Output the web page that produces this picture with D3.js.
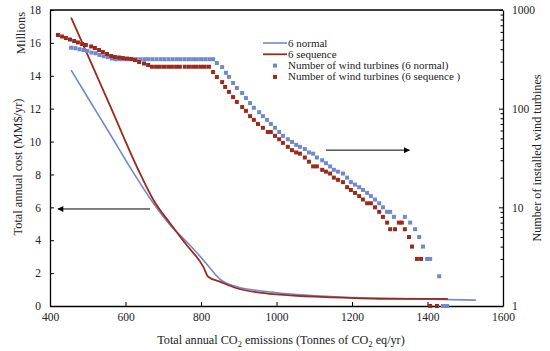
<!DOCTYPE html>
<html>
<head>
<meta charset="utf-8">
<script src="https://cdn.jsdelivr.net/npm/d3@7"></script>
<style>
body { margin: 0; background: #fff; }
svg { font-family: 'Liberation Serif', 'Times New Roman', serif; }
</style>
</head>
<body>
<div id="chart"></div>
<script>
// total annual cost curves (millions $/yr) vs CO2 emissions
const normalLineCO2 = [456, 506, 559, 616, 674, 718, 762, 806, 828, 850, 895, 956, 1036, 1142, 1274, 1407, 1528];
const normalLineCost = [14.34, 12.45, 10.46, 8.29, 6.25, 4.93, 3.91, 2.80, 2.19, 1.64, 1.17, 0.93, 0.73, 0.58, 0.47, 0.41, 0.36];
const seqLineCO2 = [456, 506, 559, 634, 674, 718, 762, 806, 819, 850, 895, 956, 1036, 1142, 1274, 1454];
const seqLineCost = [17.54, 14.93, 12.18, 8.27, 6.45, 5.03, 3.71, 2.39, 1.78, 1.48, 1.08, 0.81, 0.65, 0.53, 0.44, 0.43];

// number of wind turbines
const normalTurbCO2 = [456, 467, 478, 489, 499, 510, 521, 531, 542, 553, 564, 574, 585, 596, 607, 617, 628, 639, 650, 660,
  671, 682, 693, 703, 714, 725, 736, 746, 757, 768, 779, 789, 800, 811, 822, 832,
  842, 856, 866, 874, 885, 895, 909, 919, 930, 940, 954, 964, 975, 985, 996, 1007, 1017, 1030, 1041, 1052,
  1062, 1075, 1086, 1097, 1107, 1121, 1131, 1142, 1152, 1163, 1176, 1187, 1197, 1208, 1219, 1229, 1240, 1250, 1261, 1272,
  1282, 1293, 1301, 1311, 1340, 1354, 1367, 1378, 1388, 1399, 1407, 1431, 1441, 1452];
const normalTurbCount = [415, 410, 400, 393, 385, 370, 364, 350, 340, 333, 322, 317, 317, 317, 317, 317, 317, 317, 317, 317,
  317, 317, 317, 317, 317, 317, 317, 317, 317, 317, 317, 317, 317, 317, 317, 317,
  290, 264, 231, 210, 182, 162, 144, 128, 114, 102, 92, 84, 77, 70, 64, 58, 53, 49, 46, 43,
  41, 39, 36, 35, 32, 30, 28, 26, 24, 23, 22, 20, 18, 17, 16, 15, 14, 13, 12, 11,
  10, 9, 9, 8, 8, 7, 6, 5, 4, 3, 3, 2, 1, 1];
const seqTurbCO2 = [421, 432, 442, 453, 464, 474, 485, 495, 509, 519, 530, 540, 551, 562, 572, 583, 593, 604, 615, 625,
  636, 649, 660, 670, 681, 691, 702, 713, 723, 734, 744, 757, 768, 779, 789, 800, 810, 821,
  832, 842, 856, 864, 874, 885, 895, 909, 919, 930, 940, 951, 964, 977, 985, 996, 1007, 1017, 1030, 1041,
  1052, 1062, 1075, 1086, 1097, 1107, 1121, 1131, 1142, 1152, 1163, 1176, 1187, 1197, 1208, 1219, 1229, 1240, 1250, 1261,
  1272, 1282, 1293, 1301, 1314, 1324, 1332, 1340, 1351, 1359, 1372, 1383, 1407, 1425];
const seqTurbCount = [558, 539, 520, 502, 485, 469, 452, 442, 427, 412, 393, 375, 358, 342, 334, 330, 326, 322, 319, 311,
  297, 287, 277, 266, 266, 266, 266, 266, 266, 266, 266, 266, 266, 266, 266, 266, 266, 266,
  235, 209, 186, 166, 148, 131, 117, 104, 95, 84, 77, 70, 64, 58, 58, 53, 49, 45, 41, 38,
  36, 35, 32, 29, 26, 26, 24, 23, 22, 20, 19, 18, 16, 15, 14, 13, 12, 11, 11, 10,
  9, 8, 7, 6, 6, 7, 7, 6, 5, 4, 3, 3, 1, 1];

const co2Ticks = [400, 600, 800, 1000, 1200, 1400, 1600];
const costTicks = [0, 2, 4, 6, 8, 10, 12, 14, 16, 18];
const turbTicks = [1, 10, 100, 1000];
const turbMinorTicks = [2, 3, 4, 5, 6, 7, 8, 9, 20, 30, 40, 50, 60, 70, 80, 90, 200, 300, 400, 500, 600, 700, 800, 900];

const legendLabels = ['6 normal', '6 sequence', 'Number of wind turbines (6 normal)', 'Number of wind turbines (6 sequence )'];

const blue = '#6f89cc';
const red = '#9c2a1c';

const width = 550, height = 351;
const margin = { top: 10, right: 47, bottom: 45, left: 50 };
const w = width - margin.left - margin.right;
const h = height - margin.top - margin.bottom;

const svg = d3.select('#chart').append('svg')
  .attr('width', width)
  .attr('height', height);

const chart = svg.append('g')
  .attr('transform', `translate(${margin.left},${margin.top})`);

const x = d3.scaleLinear().domain([400, 1600]).range([0, w]);
const yCost = d3.scaleLinear().domain([0, 18]).range([h, 0]);
const yTurb = d3.scaleLog().domain([1, 1000]).range([h, 0]);

// axes, ticks pointing inward
chart.append('g')
  .attr('transform', `translate(0,${h})`)
  .call(d3.axisBottom(x).tickValues(co2Ticks).tickFormat(d3.format('d'))
    .tickSize(-4).tickSizeOuter(0).tickPadding(7));

chart.append('g')
  .call(d3.axisLeft(yCost).tickValues(costTicks).tickFormat(d3.format('d'))
    .tickSize(-4).tickSizeOuter(0).tickPadding(9));

chart.append('g')
  .attr('transform', `translate(${w},0)`)
  .call(d3.axisRight(yTurb).tickValues(turbTicks).tickFormat(d3.format('d'))
    .tickSize(-4).tickSizeOuter(0).tickPadding(9));

chart.append('g')
  .attr('transform', `translate(${w},0)`)
  .call(d3.axisRight(yTurb).tickValues(turbMinorTicks).tickFormat('').tickSize(-2.5).tickSizeOuter(0))
  .select('.domain').remove();

chart.append('line')
  .attr('x1', 0).attr('x2', w).attr('y1', 0).attr('y2', 0)
  .attr('stroke', '#000').attr('stroke-width', 1.3);

svg.selectAll('.domain').attr('stroke', '#000').attr('stroke-width', 1.3);
svg.selectAll('.tick line').attr('stroke', '#000');
svg.selectAll('.tick text').attr('font-size', 11.5).attr('fill', '#222')
  .attr('font-family', "'Liberation Serif', 'Times New Roman', serif");

// cost lines
const line = d3.line()
  .x(d => x(d[0]))
  .y(d => yCost(d[1]))
  .curve(d3.curveMonotoneX);

chart.append('path')
  .datum(d3.zip(normalLineCO2, normalLineCost))
  .attr('fill', 'none')
  .attr('stroke', blue)
  .attr('stroke-width', 1.6)
  .attr('d', line);

chart.append('path')
  .datum(d3.zip(seqLineCO2, seqLineCost))
  .attr('fill', 'none')
  .attr('stroke', red)
  .attr('stroke-width', 1.8)
  .attr('d', line);

// turbine markers
const sq = 4;
chart.append('g').selectAll('rect')
  .data(d3.zip(normalTurbCO2, normalTurbCount))
  .join('rect')
  .attr('x', d => x(d[0]) - sq / 2)
  .attr('y', d => yTurb(d[1]) - sq / 2)
  .attr('width', sq).attr('height', sq)
  .attr('fill', blue);

chart.append('g').selectAll('rect')
  .data(d3.zip(seqTurbCO2, seqTurbCount))
  .join('rect')
  .attr('x', d => x(d[0]) - sq / 2)
  .attr('y', d => yTurb(d[1]) - sq / 2)
  .attr('width', sq).attr('height', sq)
  .attr('fill', red);

// arrows
svg.append('defs').append('marker')
  .attr('id', 'arrow')
  .attr('viewBox', '0 0 10 10')
  .attr('refX', 9).attr('refY', 5)
  .attr('markerWidth', 9).attr('markerHeight', 6)
  .attr('markerUnits', 'userSpaceOnUse')
  .attr('orient', 'auto')
  .append('path')
  .attr('d', 'M0,0L10,5L0,10z')
  .attr('fill', '#000');

chart.append('line')
  .attr('x1', x(665)).attr('x2', x(421))
  .attr('y1', yCost(5.9)).attr('y2', yCost(5.9))
  .attr('stroke', '#000').attr('stroke-width', 1)
  .attr('marker-end', 'url(#arrow)');

chart.append('line')
  .attr('x1', x(1131)).attr('x2', x(1352))
  .attr('y1', yTurb(38)).attr('y2', yTurb(38))
  .attr('stroke', '#000').attr('stroke-width', 1)
  .attr('marker-end', 'url(#arrow)');

// legend
const legend = svg.append('g').attr('transform', 'translate(263,43)');
const legendItems = legend.selectAll('g')
  .data(legendLabels)
  .join('g')
  .attr('transform', (d, i) => `translate(0,${i * 11.3})`);

legendItems.filter((d, i) => i < 2).append('line')
  .attr('x1', 0).attr('x2', 24)
  .attr('stroke', (d, i) => i === 0 ? blue : red)
  .attr('stroke-width', (d, i) => i === 0 ? 1.6 : 1.8);

legendItems.filter((d, i) => i >= 2).append('rect')
  .attr('x', 12 - sq / 2).attr('y', -sq / 2)
  .attr('width', sq).attr('height', sq)
  .attr('fill', (d, i) => i === 0 ? blue : red);

legendItems.append('text')
  .attr('x', 25)
  .attr('dy', '0.32em')
  .attr('font-size', 11)
  .attr('fill', '#222')
  .text(d => d);

// axis titles
svg.append('text')
  .attr('transform', 'rotate(-90)')
  .attr('x', -33).attr('y', 25)
  .attr('text-anchor', 'middle')
  .attr('font-size', 12.5)
  .attr('fill', '#222')
  .text('Millions');

svg.append('text')
  .attr('transform', 'rotate(-90)')
  .attr('x', -167).attr('y', 22)
  .attr('text-anchor', 'middle')
  .attr('font-size', 12.3)
  .attr('fill', '#222')
  .text('Total annual cost (MM$/yr)');

svg.append('text')
  .attr('transform', 'rotate(-90)')
  .attr('x', -158).attr('y', 541)
  .attr('text-anchor', 'middle')
  .attr('font-size', 12.2)
  .attr('fill', '#222')
  .text('Number of installed wind turbines');

const xTitle = svg.append('text')
  .attr('x', 281).attr('y', 344)
  .attr('text-anchor', 'middle')
  .attr('font-size', 12.2)
  .attr('fill', '#222');
xTitle.append('tspan').text('Total annual CO');
xTitle.append('tspan').attr('font-size', 8.5).attr('dy', 3).text('2');
xTitle.append('tspan').attr('dy', -3).text(' emissions (Tonnes of CO');
xTitle.append('tspan').attr('font-size', 8.5).attr('dy', 3).text('2');
xTitle.append('tspan').attr('dy', -3).text(' eq/yr)');
</script>
</body>
</html>
